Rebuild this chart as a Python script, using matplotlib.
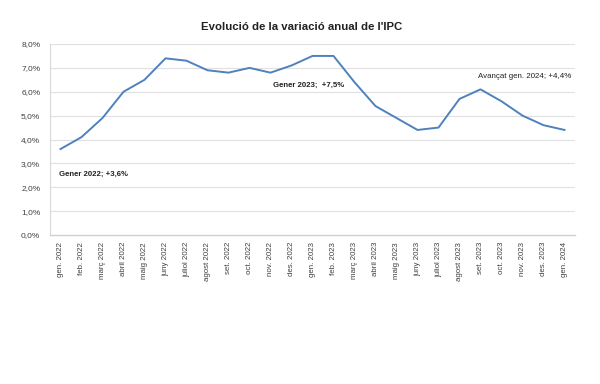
import matplotlib
matplotlib.use("Agg")
import matplotlib.pyplot as plt
from matplotlib.ticker import FuncFormatter

months = ["gen. 2022", "feb. 2022", "març 2022", "abril 2022", "maig 2022", "juny 2022",
          "juliol 2022", "agost 2022", "set. 2022", "oct. 2022", "nov. 2022", "des. 2022",
          "gen. 2023", "feb. 2023", "març 2023", "abril 2023", "maig 2023", "juny 2023",
          "juliol 2023", "agost 2023", "set. 2023", "oct. 2023", "nov. 2023", "des. 2023",
          "gen. 2024"]
ipc = [3.6, 4.1, 4.9, 6.0, 6.5, 7.4, 7.3, 6.9, 6.8, 7.0, 6.8, 7.1,
       7.5, 7.5, 6.4, 5.4, 4.9, 4.4, 4.5, 5.7, 6.1, 5.6, 5.0, 4.6, 4.4]
yticks = [0, 1, 2, 3, 4, 5, 6, 7, 8]

plt.rcParams['font.family'] = ['Liberation Sans', 'DejaVu Sans']

fig = plt.figure(figsize=(6, 3.84), dpi=100)
ax = fig.add_axes([50/600, 1-235/384, 525/600, 191/384])

x = list(range(len(months)))
ax.plot(x, ipc, color="#4f81bd", lw=1.4)

ax.set_xlim(-0.5, len(months) - 0.5)
ax.set_ylim(0, 8)
ax.set_yticks(yticks)
ax.yaxis.set_major_formatter(FuncFormatter(lambda v, p: f"{v:.1f}%".replace(".", ",")))
ax.set_xticks(x)
ax.set_xticklabels(months, rotation=90, fontsize=5.7, color="#404040")
ax.tick_params(axis='y', labelsize=6.0, colors="#404040", length=0, pad=7)
ax.tick_params(axis='x', length=0, pad=5)
ax.grid(axis='y', color="#e0e0e0", lw=0.8)
ax.set_axisbelow(True)
for s in ["top", "right"]:
    ax.spines[s].set_visible(False)
ax.spines["left"].set_color("#d9d9d9")
ax.spines["bottom"].set_color("#d0d0d0")
ax.spines["bottom"].set_linewidth(1.0)

fig.text(302/600, 1-27/384, "Evolució de la variació anual de l'IPC", ha="center", va="center",
         fontsize=8.2, fontweight="bold", color="#222222")

ax.annotate("Gener 2022; +3,6%", xy=(59/600, 1-174/384), xycoords="figure fraction",
            ha="left", va="center", fontsize=5.6, fontweight="bold", color="#222222")
ax.annotate("Gener 2023;  +7,5%", xy=(273/600, 1-85/384), xycoords="figure fraction",
            ha="left", va="center", fontsize=5.6, fontweight="bold", color="#222222")
ax.annotate("Avançat gen. 2024; +4,4%", xy=(478/600, 1-77/384), xycoords="figure fraction",
            ha="left", va="center", fontsize=5.7, color="#222222")

fig.savefig("out.png", dpi=100, facecolor="white")
